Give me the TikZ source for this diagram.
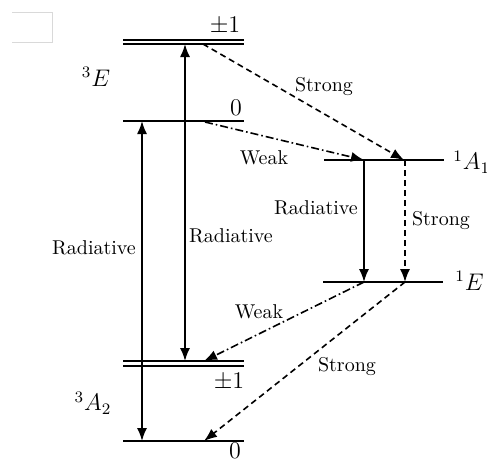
\documentclass[tikz,border=0pt]{standalone}
\usetikzlibrary{arrows.meta}
\begin{document}
\begin{tikzpicture}[x=0.5pt,y=-0.5pt,
  lvl/.style={line width=0.9pt},
  conn/.style={line width=0.8pt},
  tip/.style={-{Latex[length=6.5pt,width=5pt]}},
  dtip/.style={{Latex[length=6.5pt,width=5pt]}-{Latex[length=6.5pt,width=5pt]}},
  strongline/.style={conn,tip,dash pattern=on 3pt off 2pt},
  weakline/.style={conn,tip,dash pattern=on 4pt off 1.5pt on 0.8pt off 1.5pt},
  lbl/.style={inner sep=0pt,font=\normalsize},
  mlbl/.style={inner sep=0pt,font=\fontsize{11.5pt}{14pt}\selectfont}]
\useasboundingbox (0,0) rectangle (487,463);
\draw[gray!30,line width=0.5pt] (12,12) -- (52,12) -- (52,42) -- (12,42);
% level coordinates
\coordinate (EpmAl) at (123,40); \coordinate (EpmAr) at (244,40);
\coordinate (EpmBl) at (123,44); \coordinate (EpmBr) at (244,44);
\coordinate (E0l) at (123,121); \coordinate (E0r) at (244,121);
\coordinate (A1l) at (324,160); \coordinate (A1r) at (444,160);
\coordinate (Sl) at (323,282); \coordinate (Sr) at (443,282);
\coordinate (ApmAl) at (123,361); \coordinate (ApmAr) at (244,361);
\coordinate (ApmBl) at (123,366); \coordinate (ApmBr) at (244,366);
\coordinate (A0l) at (123,441); \coordinate (A0r) at (244,441);
\draw[lvl] (EpmAl) -- (EpmAr);
\draw[lvl] (EpmBl) -- (EpmBr);
\draw[lvl] (E0l) -- (E0r);
\draw[lvl] (A1l) -- (A1r);
\draw[lvl] (Sl) -- (Sr);
\draw[lvl] (ApmAl) -- (ApmAr);
\draw[lvl] (ApmBl) -- (ApmBr);
\draw[lvl] (A0l) -- (A0r);
% level labels
\node[mlbl] (lEpm) at (225,26) {$\pm1$};
\node[mlbl] (lE0) at (236,108) {$0$};
\node[mlbl] (lE) at (96,77) {$^{3}E$};
\node[mlbl,anchor=west] (lA1) at (453,162) {$^{1}A_1$};
\node[mlbl,anchor=west] (lS) at (455,281) {$^{1}E$};
\node[mlbl] (lApm) at (229,382) {$\pm1$};
\node[mlbl] (lA0) at (235,451) {$0$};
\node[mlbl] (lA) at (93,403) {$^{3}A_2$};
% connector end points
\coordinate (r1t) at (142,121); \coordinate (r1b) at (142,441);
\coordinate (r2t) at (185,44); \coordinate (r2b) at (185,361);
\coordinate (s1a) at (203,44); \coordinate (s1b) at (404,160);
\coordinate (w1a) at (205,122); \coordinate (w1b) at (364,160);
\coordinate (r3a) at (364,160); \coordinate (r3b) at (364,282);
\coordinate (s2a) at (405,160); \coordinate (s2b) at (405,282);
\coordinate (w2a) at (364,282); \coordinate (w2b) at (204,361);
\coordinate (s3a) at (405,282); \coordinate (s3b) at (204,441);
% connectors
\draw[conn,dtip] (r1b) -- (r1t);
\draw[conn,dtip] (r2t) -- (r2b);
\draw[strongline] (s1a) -- (s1b);
\draw[weakline] (w1a) -- (w1b);
\draw[conn,tip] (r3a) -- (r3b);
\draw[strongline] (s2a) -- (s2b);
\draw[weakline] (w2a) -- (w2b);
\draw[strongline] (s3a) -- (s3b);
% connector labels
\node[lbl] (tr1) at (94,248) {Radiative};
\node[lbl] (tr2) at (231,236) {Radiative};
\node[lbl] (ts1) at (324,86) {Strong};
\node[lbl] (tw1) at (264,158) {Weak};
\node[lbl] (tr3) at (316,208) {Radiative};
\node[lbl] (ts2) at (441,220) {Strong};
\node[lbl] (tw2) at (259,312) {Weak};
\node[lbl] (ts3) at (347,366) {Strong};
\end{tikzpicture}
\end{document}
